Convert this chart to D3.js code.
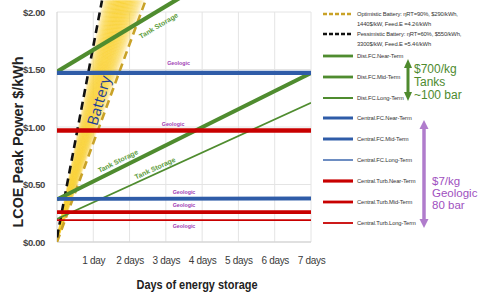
<!DOCTYPE html>
<html><head><meta charset="utf-8">
<script src="https://cdn.jsdelivr.net/npm/d3@7"></script>
<style>html,body{margin:0;padding:0;background:#fff;}svg{display:block;}</style>
</head><body>
<svg id="chart" width="487" height="297"></svg>
<script>
// ---------- data ----------
const dayTicks = [1, 2, 3, 4, 5, 6, 7];
const dayTickLabels = ["1 day", "2 days", "3 days", "4 days", "5 days", "6 days", "7 days"];
const costTicks = [0, 0.5, 1.0, 1.5, 2.0];
const costTickLabels = ["$0.00", "$0.50", "$1.00", "$1.50", "$2.00"];

const lineDays = [0, 7];
const distFCNear = [1.48, 2.81];
const distFCMid = [0.37, 1.47];
const distFCLong = [0.20, 1.21];
const centralFCNear = [1.47, 1.47];
const centralFCMid = [0.375, 0.38];
const centralFCLong = [0.37, 0.37];
const centralTurbNear = [0.97, 0.97];
const centralTurbMid = [0.26, 0.26];
const centralTurbLong = [0.19, 0.19];

const optBatteryDays = [0, 2.44];
const optBatteryCost = [0.0, 2.1];
const pesBatteryDays = [0, 1.24];
const pesBatteryCost = [0.04, 2.1];

const legendNames = [
  ["Optimistic Battery: \u03b7RT=90%, $290/kWh,", "1440$/kW, Feed.E =4.2\u00a2/kWh"],
  ["Pessimistic Battery: \u03b7RT=60%, $550/kWh,", "3300$/kW, Feed.E =5.4\u00a2/kWh"],
  ["Dist.FC.Near-Term"], ["Dist.FC.Mid-Term"], ["Dist.FC.Long-Term"],
  ["Central.FC.Near-Term"], ["Central.FC.Mid-Term"], ["Central.FC.Long-Term"],
  ["Central.Turb.Near-Term"], ["Central.Turb.Mid-Term"], ["Central.Turb.Long-Term"]
];

// ---------- styles ----------
const GREEN = "#4f8c2f", BLUE = "#2f5ca8", RED = "#c80000", GOLD = "#c9a227", BLACK = "#111";
const series = [
  {v: distFCNear, c: GREEN, w: 4.2},
  {v: distFCMid, c: GREEN, w: 4},
  {v: distFCLong, c: GREEN, w: 1.6},
  {v: centralFCLong, c: BLUE, w: 1.5},
  {v: centralFCNear, c: BLUE, w: 4.2},
  {v: centralFCMid, c: BLUE, w: 3.8},
  {v: centralTurbNear, c: RED, w: 4.5},
  {v: centralTurbMid, c: RED, w: 3.8},
  {v: centralTurbLong, c: RED, w: 1.8}
];

const svg = d3.select("#chart");
const x = d3.scaleLinear().domain([0, 7]).range([57, 311]);
const y = d3.scaleLinear().domain([0, 2]).range([242, 12]);
const SANS = "'Liberation Sans',Arial,sans-serif";

// clip
svg.append("defs").append("clipPath").attr("id", "clip")
  .append("rect").attr("x", x(0)).attr("y", 0).attr("width", x(7) - x(0)).attr("height", y(0));

// grid
const grid = svg.append("g");
grid.selectAll("line.v").data(dayTicks).join("line")
  .attr("x1", d => x(d)).attr("x2", d => x(d)).attr("y1", y(2)).attr("y2", y(0))
  .attr("stroke", "#e4e4e4").attr("stroke-width", 1);
grid.selectAll("line.h").data(costTicks).join("line")
  .attr("x1", x(0)).attr("x2", x(7)).attr("y1", d => y(d)).attr("y2", d => y(d))
  .attr("stroke", "#e4e4e4").attr("stroke-width", 1);
svg.append("line").attr("x1", x(0)).attr("x2", x(0)).attr("y1", y(2)).attr("y2", y(0)).attr("stroke", "#cfcfcf");
svg.append("line").attr("x1", x(0)).attr("x2", x(7)).attr("y1", y(0)).attr("y2", y(0)).attr("stroke", "#cfcfcf");

// axes labels via d3 axes
const yAxis = svg.append("g").attr("transform", `translate(${x(0) - 9},0)`)
  .call(d3.axisLeft(y).tickValues(costTicks).tickFormat((d, i) => costTickLabels[i]).tickSize(0));
yAxis.select(".domain").remove();
yAxis.selectAll("text").attr("font-family", SANS).attr("font-size", 9.5).attr("fill", "#444")
  .attr("font-weight", "bold").attr("letter-spacing", -0.35);

const xAxis = svg.append("g").attr("transform", `translate(0,${y(0) + 12})`)
  .call(d3.axisBottom(x).tickValues(dayTicks).tickFormat((d, i) => dayTickLabels[i]).tickSize(0));
xAxis.select(".domain").remove();
xAxis.selectAll("text").attr("font-family", SANS).attr("font-size", 10).attr("fill", "#3a3a3a")
  .attr("letter-spacing", -0.3);

// titles
svg.append("text").attr("transform", "translate(23,142) rotate(-90)")
  .attr("text-anchor", "middle").attr("font-family", SANS)
  .attr("font-weight", "bold").attr("font-size", 14).attr("fill", "#222")
  .attr("textLength", 171).attr("lengthAdjust", "spacingAndGlyphs")
  .text("LCOE Peak Power $/kWh");
svg.append("text").attr("x", 197).attr("y", 289)
  .attr("text-anchor", "middle").attr("font-family", SANS)
  .attr("font-weight", "bold").attr("font-size", 13.5).attr("fill", "#222")
  .attr("textLength", 121).attr("lengthAdjust", "spacingAndGlyphs")
  .text("Days of energy storage");

const plot = svg.append("g").attr("clip-path", "url(#clip)");

// yellow battery band between the two battery lines
const N = 40;
const band = plot.append("g");
for (let i = 0; i < N; i++) {
  const t0 = i / N, t1 = (i + 1) / N, tm = (t0 + t1) / 2;
  const lerp = (a, b, t) => a + (b - a) * t;
  const pt = (j, t) => [x(lerp(pesBatteryDays[j], optBatteryDays[j], t)), y(lerp(pesBatteryCost[j], optBatteryCost[j], t))];
  const poly = [pt(0, t0), pt(1, t0), pt(1, t1), pt(0, t1)];
  const op = Math.pow(Math.sin(Math.PI * Math.pow(tm, 0.85)), 0.9) * 0.95;
  band.append("path").attr("d", d3.line()(poly) + "Z")
    .attr("fill", "#fbd338").attr("fill-opacity", op).attr("stroke", "#fbd338").attr("stroke-opacity", op).attr("stroke-width", 0.3);
}

const line = d3.line().x(d => x(d[0])).y(d => y(d[1]));
plot.append("path").attr("d", line(d3.zip(optBatteryDays, optBatteryCost)))
  .attr("fill", "none").attr("stroke", GOLD).attr("stroke-width", 2.6).attr("stroke-dasharray", "8,5");
plot.append("path").attr("d", line(d3.zip(pesBatteryDays, pesBatteryCost)))
  .attr("fill", "none").attr("stroke", BLACK).attr("stroke-width", 2.6).attr("stroke-dasharray", "8,5");

series.forEach(s => {
  plot.append("path").attr("d", line(d3.zip(lineDays, s.v)))
    .attr("fill", "none").attr("stroke", s.c).attr("stroke-width", s.w);
});

// Battery label
svg.append("text").attr("transform", "translate(104,102) rotate(-74)")
  .attr("text-anchor", "middle").attr("font-family", "'Open Sans',Arial,sans-serif")
  .attr("font-size", 15).attr("fill", "#1f3f95").text("Battery");

// Tank storage labels
function lineAt(vals, d) { return vals[0] + (vals[1] - vals[0]) * d / 7; }
function slopeDeg(vals) {
  const dx = x(7) - x(0), dy = y(vals[1]) - y(vals[0]);
  return Math.atan2(dy, dx) * 180 / Math.PI;
}
[[distFCNear, 2.8, 15], [distFCMid, 1.68, -8], [distFCLong, 2.7, -6]].forEach(([vals, d, off]) => {
  const px = x(d), py = y(lineAt(vals, d)) + off;
  svg.append("text").attr("transform", `translate(${px},${py}) rotate(${slopeDeg(vals)})`)
    .attr("text-anchor", "middle").attr("dy", "0.35em")
    .attr("font-family", SANS).attr("font-weight", "bold")
    .attr("font-size", 7).attr("fill", "#5c9c3c").text("Tank Storage");
});

// Geologic labels
[[centralFCNear, 3.35, -10], [centralTurbNear, 3.2, -6], [centralFCMid, 3.5, -6], [centralTurbMid, 3.5, -7], [centralTurbLong, 3.5, 6]]
  .forEach(([vals, d, off]) => {
    svg.append("text").attr("x", x(d)).attr("y", y(lineAt(vals, d)) + off).attr("dy", "0.35em")
      .attr("text-anchor", "middle").attr("font-family", SANS)
      .attr("font-weight", "bold").attr("font-size", 5.3).attr("fill", "#a03cb4").text("Geologic");
  });

// legend
const legendY = [14, 34, 56, 77, 98, 118, 139, 160, 181, 202, 223];
const legendStyle = [
  {c: GOLD, w: 2.4, dash: "4,2"}, {c: BLACK, w: 2.4, dash: "4,2"},
  {c: GREEN, w: 2.8}, {c: GREEN, w: 2.8}, {c: GREEN, w: 2},
  {c: BLUE, w: 3}, {c: BLUE, w: 3}, {c: BLUE, w: 1.4},
  {c: RED, w: 3.2}, {c: RED, w: 2.8}, {c: RED, w: 1.8}
];
const lg = svg.append("g");
legendNames.forEach((names, i) => {
  const st = legendStyle[i];
  lg.append("line").attr("x1", 323).attr("x2", 353).attr("y1", legendY[i]).attr("y2", legendY[i])
    .attr("stroke", st.c).attr("stroke-width", st.w).attr("stroke-dasharray", st.dash || null);
  names.forEach((n, k) => {
    lg.append("text").attr("x", 357).attr("y", legendY[i] + k * 10).attr("dy", "0.35em")
      .attr("font-family", SANS).attr("font-size", 5.8).attr("letter-spacing", -0.12)
      .attr("fill", "#333").text(n);
  });
});

// arrows + annotations
function dblArrow(cx, top, bottom, hw, hh, color, sw) {
  const g = svg.append("g");
  g.append("line").attr("x1", cx).attr("x2", cx).attr("y1", top + hh - 1).attr("y2", bottom - hh + 1)
    .attr("stroke", color).attr("stroke-width", sw);
  g.append("path").attr("d", `M${cx},${top} L${cx - hw},${top + hh} L${cx + hw},${top + hh} Z`).attr("fill", color);
  g.append("path").attr("d", `M${cx},${bottom} L${cx - hw},${bottom - hh} L${cx + hw},${bottom - hh} Z`).attr("fill", color);
}
dblArrow(408, 59, 101, 4, 9, "#4e8a2e", 3);
dblArrow(424, 120, 228, 4.5, 9, "#b07ccc", 3.5);

["$700/kg", "Tanks", "~100 bar"].forEach((t, i) => {
  svg.append("text").attr("x", 414).attr("y", 73 + i * 13).attr("font-family", SANS)
    .attr("font-size", 12).attr("fill", "#4e8a2e").text(t);
});
["$7/kg", "Geologic", "80 bar"].forEach((t, i) => {
  svg.append("text").attr("x", 432).attr("y", 185 + i * 12).attr("font-family", SANS)
    .attr("font-size", 11.5).attr("fill", "#a050c0").text(t);
});
</script>
</body></html>
